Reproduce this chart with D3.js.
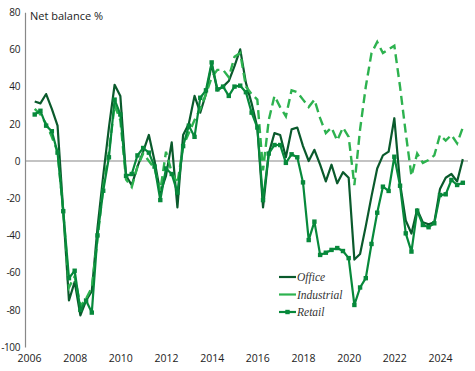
<!doctype html><html><head>
<style>
  body { margin: 0; background: #fff; }
  svg text { font-family: "Open Sans", sans-serif; font-size: 10.5px; fill: #222; }
  .legend text { font-family: "Liberation Serif", serif; font-style: italic; font-size: 11.5px; fill: #333; }
</style>
</head><body><script src="https://d3js.org/d3.v7.min.js"></script>
<script>
// quarterly net balances, 2006 Q2 to 2025 Q1
var office = [32, 31, 36, 28, 19, -27, -75, -65, -83, -75, -70, -36, -8, 18, 41, 35, -8, -13, -3, 5,
  14, 0, -17, -8, 10, -25, 14, 20, 35, 26, 36, 52, 38, 40, 43, 51, 60, 42, 31, 18,
  -25, 4, 15, 14, 2, 17, 18, 8, 0, 6, -2, -11, -2, -12, -6, -9, -53, -50, -35, -19,
  -4, 3, 5, 23, -12, -32, -39, -26, -33, -34, -33, -15, -9, -7, -11, 1];
var industrial = [28, 25, 20, 13, 5, -27, -68, -62, -78, -74, -68, -42, -14, 5, 30, 22, -10, -14, -3, 4,
  0, -4, -16, 5, -6, -12, 8, 15, 22, 28, 36, 45, 49, 49, 45, 56, 58, 40, 36, 33,
  -5, 22, 35, 29, 24, 38, 37, 33, 29, 33, 23, 15, 18, 11, 18, 13, -13, 17, 40, 58,
  64, 58, 60, 62, 40, 15, -8, 4, -1, 0.5, 3, 14, 11, 14, 9.5, 18];
var retail = [25, 27, 19, 16, 4.5, -27, -63, -59, -80, -75, -81.5, -40, -16, 2, 33, 25, -8, -7, 3, 7,
  4.5, -3, -21, -4, -7, -17, 8, 19, 13, 34, 38, 53, 38.5, 40, 35, 40, 40.5, 37, 26, 18,
  -21, 4, 8.6, 8.6, -1, 3.6, 2, -11.5, -42.5, -32.6, -50.5, -49.3, -47.8, -46.8, -48.4, -52.2, -77.4, -68, -63, -44.6,
  -27.8, -13.8, -16.1, 2.3, -13.3, -38.9, -48.7, -26.7, -34.4, -35.6, -33.5, -18.3, -17.9, -10.2, -12.9, -11.7];
var quarters = d3.range(1, 77).map(function(i) { return 2006 + i / 4; });
var yearTicks = d3.range(2006, 2025, 2);
var valueTicks = d3.range(-100, 81, 20);

var width = 475, height = 371;
var svg = d3.select("body").append("svg").attr("width", width).attr("height", height);

var x = d3.scaleLinear().domain([2006, 2024]).range([29, 440]);
var y = d3.scaleLinear().domain([-100, 80]).range([347, 12.2]);

// y axis: line only, labels to the left (plain hyphen for negatives)
var yAxis = d3.axisLeft(y).tickValues(valueTicks).tickSize(0).tickPadding(5)
  .tickFormat(function(d) { return String(d); });
var gy = svg.append("g").attr("transform", "translate(25,0)").call(yAxis);
gy.select(".domain").attr("stroke", "#888").attr("stroke-width", 1.2);
gy.selectAll("text").style("font-size", "10px").style("letter-spacing", "-0.4px").style("fill", "#222");

var xAxis = d3.axisBottom(x).tickValues(yearTicks).tickFormat(function(d) { return String(d); })
  .tickSize(0).tickPadding(0);
var gx = svg.append("g").attr("transform", "translate(0,355)").call(xAxis);
gx.select(".domain").remove();
gx.selectAll("text").style("font-size", "10.5px").style("fill", "#222");

// zero line
svg.append("line")
  .attr("x1", 25).attr("x2", 468)
  .attr("y1", y(0)).attr("y2", y(0))
  .attr("stroke", "#888").attr("stroke-width", 1.2);

svg.append("text").attr("x", 30).attr("y", 20).text("Net balance %").style("font-size", "11px");

var line = d3.line()
  .x(function(d, i) { return x(quarters[i]); })
  .y(function(d) { return y(d); });

var cOffice = "#0a5a2c", cInd = "#2db24f", cRetail = "#07893b";

svg.append("path").datum(office).attr("d", line)
  .attr("fill", "none").attr("stroke", cOffice).attr("stroke-width", 2.2).attr("stroke-linejoin", "round");

svg.append("path").datum(industrial).attr("d", line)
  .attr("fill", "none").attr("stroke", cInd).attr("stroke-width", 2.4).attr("stroke-dasharray", "9,5");

svg.append("path").datum(retail).attr("d", line)
  .attr("fill", "none").attr("stroke", cRetail).attr("stroke-width", 2.2).attr("stroke-linejoin", "round");

svg.append("g").selectAll("rect").data(retail).enter().append("rect")
  .attr("x", function(d, i) { return x(quarters[i]) - 2.2; })
  .attr("y", function(d) { return y(d) - 2.2; })
  .attr("width", 4.4).attr("height", 4.4)
  .attr("fill", cRetail);

// legend
var legendItems = [
  { name: "Office", color: cOffice, marker: false },
  { name: "Industrial", color: cInd, marker: false },
  { name: "Retail", color: cRetail, marker: true }
];
var lg = svg.append("g").attr("class", "legend");
var row = lg.selectAll("g").data(legendItems).enter().append("g")
  .attr("transform", function(d, i) { return "translate(279," + (277 + i * 17.5) + ")"; });
row.append("line").attr("x1", 0).attr("x2", 17).attr("y1", 0).attr("y2", 0)
  .attr("stroke", function(d) { return d.color; }).attr("stroke-width", 2.2);
row.filter(function(d) { return d.marker; }).append("rect")
  .attr("x", 6.3).attr("y", -2.2).attr("width", 4.4).attr("height", 4.4)
  .attr("fill", function(d) { return d.color; });
row.append("text").attr("x", 18).attr("y", 4).text(function(d) { return d.name; });
</script></body></html>
